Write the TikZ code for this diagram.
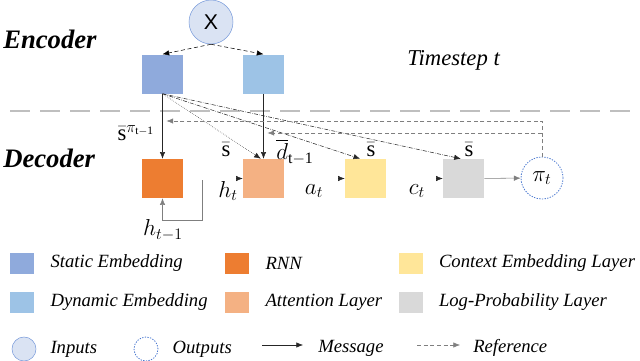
\documentclass[tikz,border=0pt]{standalone}
\usepackage{amsmath}
\usepackage{fontspec}
\setmainfont{Liberation Serif}
\newfontfamily\sansx{Liberation Sans}
\usetikzlibrary{arrows.meta,positioning}

\definecolor{staticblue}{HTML}{8FAADC}
\definecolor{dynblue}{HTML}{9DC3E6}
\definecolor{rnnorange}{HTML}{ED7D31}
\definecolor{attorange}{HTML}{F4B183}
\definecolor{ctxyellow}{HTML}{FFE699}
\definecolor{loggray}{HTML}{D9D9D9}
\definecolor{inblue}{HTML}{DAE3F3}
\definecolor{edgeblue}{HTML}{7A9CDB}
\definecolor{outblue}{HTML}{4A78D0}
\definecolor{divgray}{HTML}{BFBFBF}
\definecolor{refgray}{HTML}{7F7F7F}

\tikzset{
    layer/.style={minimum width=30.75pt,minimum height=29.25pt,inner sep=0pt,fill=#1},
    legbox/.style={minimum width=18pt,minimum height=15.75pt,inner sep=0pt,fill=#1},
    outcircle/.style={circle,draw=outblue,line width=0.6pt,dash pattern=on 1pt off 1pt},
    msg/.style={draw=black!85,-{Latex[length=5pt,width=4pt]}},
    refline/.style={draw=refgray,densely dashed,-{Latex[length=5pt,width=4pt]}},
    lbl/.style={font=\fontsize{17}{20}\selectfont,inner sep=0pt},
    legtext/.style={font=\fontsize{14}{16}\selectfont\itshape,inner sep=0pt},
}

\begin{document}
\begin{tikzpicture}[x=0.75pt,y=-0.75pt]
        \useasboundingbox (0,0) rectangle (640,361);
        \node[font=\fontsize{20}{24}\selectfont\bfseries\itshape,anchor=west,inner sep=0pt] (enc) at (3,39) {Encoder};
        \node[font=\fontsize{20}{24}\selectfont\bfseries\itshape,anchor=west,inner sep=0pt] (dec) at (3,158) {Decoder};
        \node[font=\fontsize{17}{20}\selectfont\itshape,anchor=west,inner sep=0pt] (tstep) at (407,60) {Timestep t};
        \draw[divgray,line width=2.2pt,dash pattern=on 15pt off 7.5pt] (10,111) -- (640,111);
        % encoder
        \node[circle,draw=edgeblue,fill=inblue,minimum size=33pt,inner sep=0pt,font=\fontsize{16}{18}\selectfont\sansx] (x) at (211,22) {X};
        \node[layer=staticblue] (stat) at (162.5,74) {};
        \node[layer=dynblue] (dyn) at (263.5,74) {};
        \draw[densely dashed,-{Latex[length=5pt,width=4pt]}] (x.south) -- (stat.north);
        \draw[densely dashed,-{Latex[length=5pt,width=4pt]}] (x.south) -- (dyn.north);
        % decoder
        \node[layer=rnnorange] (rnn) at (162.5,178.5) {};
        \node[layer=attorange] (att) at (263.5,178.5) {};
        \node[layer=ctxyellow] (ctx) at (365.5,178.5) {};
        \node[layer=loggray] (logp) at (463.5,178.5) {};
        \node[outcircle,minimum size=31.5pt,lbl] (pi) at (542,178) {$\pi_t$};
        \draw[msg] (stat.south) -- (rnn.north);
        \draw[msg,densely dotted] (stat.south) -- ([xshift=-2pt]att.north);
        \draw[msg,densely dash dot] (stat.south) -- ([xshift=-4pt]ctx.north);
        \draw[msg,densely dash dot] (stat.south) -- ([xshift=-2pt]logp.north);
        \draw[msg] (dyn.south) -- (att.north);
        \draw[msg,draw=refgray] (logp) -- (pi);
        \foreach \n in {att,ctx,logp} \draw[msg] ([xshift=-4pt]\n.west) -- (\n.west);
        \coordinate (loopend) at (202,180);
        \draw[msg,draw=refgray] (loopend) |- ([yshift=-16.5pt]rnn.south) -- (rnn.south);
        % reference
        \coordinate (refa) at ([xshift=3pt]stat.south |- 0,121);
        \coordinate (refb) at ([xshift=3pt]dyn.south |- 0,133);
        \draw[refline] (pi.north) |- (refa);
        \draw[refline] (pi.north |- 0,133) -- (refb);
        % labels
        \node[lbl] (spi) at (136,133) {$\bar{\mathrm{s}}^{\pi_{\mathrm{t-1}}}$};
        \node[lbl] (s1) at (226,150) {$\bar{\mathrm{s}}$};
        \node[lbl] (dl) at (295,152) {$\overline{d}_{\mathrm{t-1}}$};
        \node[lbl] (s2) at (371,150) {$\bar{\mathrm{s}}$};
        \node[lbl] (s3) at (469,150) {$\bar{\mathrm{s}}$};
        \node[lbl] (ht) at (228,191) {$h_t$};
        \node[lbl] (at) at (314,191) {$a_t$};
        \node[lbl] (ct) at (417,191) {$c_t$};
        \node[lbl] (htm) at (163,230) {$h_{t-1}$};
        % legend
        \foreach \i/\c/\t/\x/\y in {1/staticblue/Static Embedding/22/263,2/rnnorange/RNN/237/263,3/ctxyellow/Context Embedding Layer/410.5/263,
            4/dynblue/Dynamic Embedding/22/302,5/attorange/Attention Layer/237/302,6/loggray/Log-Probability Layer/410.5/302} {
            \node[legbox=\c] (lb\i) at (\x,\y) {};
            \node[legtext,right=12pt of lb\i] (lt\i) {\t};
        }
        \node[circle,draw=edgeblue,fill=inblue,minimum size=18pt,inner sep=0pt] (lin) at (24,349) {};
        \node[legtext,right=10.5pt of lin] (ltin) {Inputs};
        \node[outcircle,minimum size=18pt,inner sep=0pt] (lout) at (146,349) {};
        \node[legtext,right=10.5pt of lout] (ltout) {Outputs};
        \coordinate (m0) at (262,345);
        \coordinate (m1) at (303,345);
        \draw[msg] (m0) -- (m1);
        \node[legtext,anchor=west] (ltmsg) at (318,348) {Message};
        \coordinate (r0) at (417,345);
        \coordinate (r1) at (460,345);
        \draw[refline] (r0) -- (r1);
        \node[legtext,anchor=west] (ltref) at (473,348) {Reference};
    \end{tikzpicture}
\end{document}
